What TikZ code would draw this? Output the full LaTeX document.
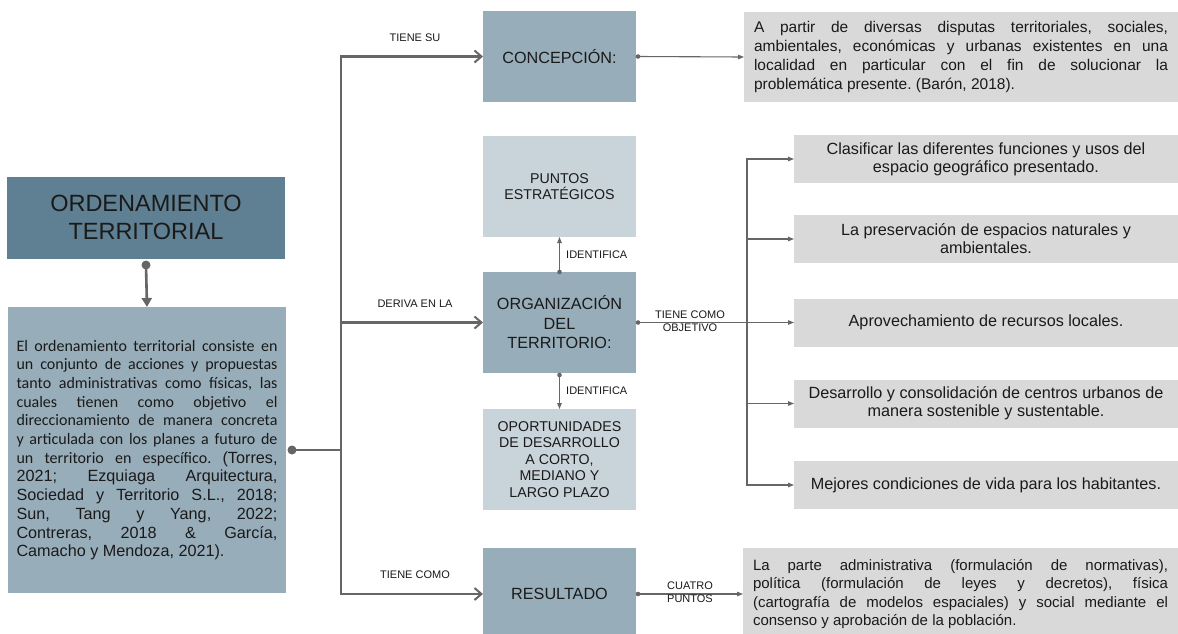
\documentclass[tikz,border=0pt]{standalone}
\usepackage{fontspec}
\setmainfont{Liberation Sans}
\newfontfamily\carlito{Carlito}
\usetikzlibrary{arrows.meta}
\frenchspacing
\definecolor{darkc}{HTML}{5F7F92}
\definecolor{midc}{HTML}{98ADBA}
\definecolor{lightc}{HTML}{C9D3DA}
\definecolor{grayc}{HTML}{D9D9D9}
\definecolor{linec}{HTML}{666666}
\definecolor{txtc}{HTML}{1A1A1A}
\begin{document}
\begin{tikzpicture}[x=1pt,y=-1pt,
  box/.style={rectangle, inner sep=0pt, outer sep=0pt, text=txtc, align=center},
  midbox/.style={box, fill=midc, minimum width=153, minimum height=101,
     font=\fontsize{16.2}{19.5}\selectfont},
  lightbox/.style={box, fill=lightc, minimum width=153, minimum height=101,
     font=\fontsize{14.2}{16.5}\selectfont},
  objbox/.style={box, fill=grayc, minimum width=384, minimum height=48,
     font=\fontsize{16.2}{18}\selectfont},
  lbl/.style={inner sep=0pt, text=txtc, align=center, font=\fontsize{11}{13}\selectfont},
  mainline/.style={draw=linec, line width=2.6pt},
  mainarrow/.style={mainline, -{Straight Barb[length=7pt,width=12pt,line width=2pt]}},
  thinline/.style={draw=linec, line width=1.1pt},
  thinarrow/.style={thinline, -{Triangle[length=6pt,width=4.5pt]}},
  smalldot/.style={fill=linec}
]
\useasboundingbox (0,0) rectangle (1178,633);
\fill[white] (0,0) rectangle (1178,633);

% left column
\node[box, fill=darkc, minimum width=278, minimum height=82,
      font=\fontsize{23.5}{28}\selectfont] (ord) at (146,217.5) {ORDENAMIENTO\\TERRITORIAL};
\node[box, fill=midc, minimum width=278, minimum height=286, align=left] (def) at (147,450)
 {\raisebox{-3pt}{\parbox{261pt}{\frenchspacing\carlito\fontsize{16}{18.7}\selectfont El ordenamiento territorial consiste en\linebreak
 un conjunto de acciones y propuestas\linebreak
 tanto administrativas como físicas, las\linebreak
 cuales tienen como objetivo el\linebreak
 direccionamiento de manera concreta\linebreak
 y articulada con los planes a futuro de\linebreak
 un territorio en específico. \normalfont\fontsize{16.2}{18.7}\selectfont(Torres,\linebreak
 2021; Ezquiaga Arquitectura,\linebreak
 Sociedad y Territorio S.L., 2018;\linebreak
 Sun, Tang y Yang, 2022;\linebreak
 Contreras, 2018 \& García,\linebreak
 Camacho y Mendoza, 2021).}}};

% middle column
\node[midbox, minimum height=91] (conc) at (559.5,56.5) {CONCEPCIÓN:};
\node[lightbox] (pe) at (559.5,186.5) {PUNTOS\\ESTRATÉGICOS};
\node[midbox] (org) at (559.5,322.5) {ORGANIZACIÓN\\DEL\\TERRITORIO:};
\node[lightbox] (opp) at (559.5,459.5) {OPORTUNIDADES\\DE DESARROLLO\\A CORTO,\\MEDIANO Y\\LARGO PLAZO};
\node[midbox, minimum height=92] (res) at (559.5,594) {RESULTADO};

% right column
\node[box, fill=grayc, minimum width=434, minimum height=90] (ctext) at (961,57)
 {\parbox{414pt}{\frenchspacing\color{txtc}\fontsize{15.5}{18.7}\selectfont A partir de diversas disputas territoriales, sociales,\linebreak
 ambientales, económicas y urbanas existentes en una\linebreak
 localidad en particular con el fin de solucionar la\linebreak
 problemática presente. (Barón, 2018).}};
\node[objbox] (o1) at (986,159) {Clasificar las diferentes funciones y usos del\\espacio geográfico presentado.};
\node[objbox] (o2) at (986,239) {La preservación de espacios naturales y\\ambientales.};
\node[objbox] (o3) at (986,322.5) {Aprovechamiento de recursos locales.};
\node[objbox] (o4) at (986,403.5) {Desarrollo y consolidación de centros urbanos de\\manera sostenible y sustentable.};
\node[objbox] (o5) at (986,485) {Mejores condiciones de vida para los habitantes.};
\node[box, fill=grayc, minimum width=435, minimum height=92] (rtext) at (960.5,594)
 {\raisebox{-2pt}{\parbox{415pt}{\frenchspacing\color{txtc}\fontsize{15}{18.2}\selectfont La parte administrativa (formulación de normativas),\linebreak
 política (formulación de leyes y decretos), física\linebreak
 (cartografía de modelos espaciales) y social mediante el\linebreak
 consenso y aprobación de la población.}}};

% main connectors
\coordinate (ordout) at ([yshift=-6.5pt]ord.south);
\draw[mainline, -{Triangle[length=9pt,width=10pt]}] (ordout) -- (def.north);
\fill[linec] (ordout) circle (4.5);
\coordinate (defout) at ([xshift=6pt]def.east);
\coordinate (trunk) at (341,450);
\draw[mainline] (defout) -- (trunk);
\fill[linec] (defout) circle (4.5);
\draw[mainarrow] (trunk) |- (conc.west);
\draw[mainarrow] (trunk) |- (res.west);
\draw[mainarrow] (trunk |- org.west) -- (org.west);
\node[lbl] (l1) at (415,38) {TIENE SU};
\node[lbl] (l2) at (415,304) {DERIVA EN LA};
\node[lbl] (l3) at (415,575) {TIENE COMO};

% thin connectors
\coordinate (concout) at ([xshift=2pt]conc.east);
\draw[thinarrow] (concout) -- (ctext.west);
\fill[smalldot] (concout) circle (2.3);
\draw[thinarrow] (org.north) -- (pe.south);
\fill[smalldot] (org.north) circle (2.3);
\draw[thinarrow] (org.south) -- (opp.north);
\fill[smalldot] ([yshift=-2pt]org.south) circle (2.3);
\node[lbl, anchor=west] (l4) at (566,255) {IDENTIFICA};
\node[lbl, anchor=west] (l5) at (566,391) {IDENTIFICA};
\coordinate (resout) at ([xshift=2pt]res.east);
\draw[thinarrow] (resout) -- (rtext.west);
\fill[smalldot] (resout) circle (2.3);
\node[lbl] (l6) at (690,592) {CUATRO\\PUNTOS};

\coordinate (orgout) at ([xshift=2pt]org.east);
\coordinate (bus) at (747,322.5);
\draw[thinline] (orgout) -- (bus);
\fill[smalldot] (orgout) circle (2.3);
\draw[thinarrow] (bus) |- (o1.west);
\draw[thinarrow] (bus) |- (o5.west);
\draw[thinarrow] (bus |- o2.west) -- (o2.west);
\draw[thinarrow] (bus) -- (o3.west);
\draw[thinarrow] (bus |- o4.west) -- (o4.west);
\node[lbl] (l7) at (690,321) {TIENE COMO\\OBJETIVO};
\end{tikzpicture}
\end{document}
